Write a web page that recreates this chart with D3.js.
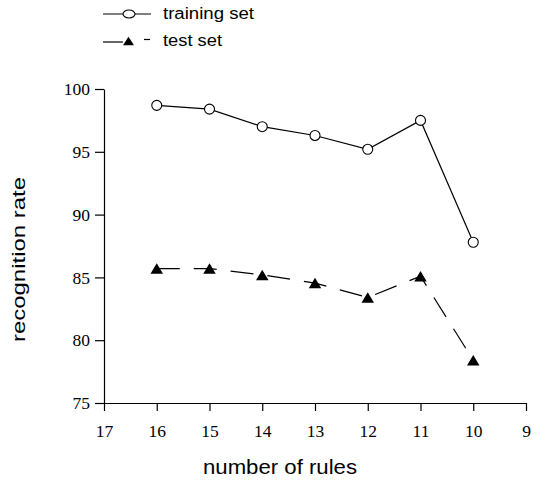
<!DOCTYPE html>
<html><head><meta charset="utf-8">
<script src="https://cdn.jsdelivr.net/npm/d3@7"></script>
<style>body{margin:0;background:#fff;} svg{display:block;}</style>
</head><body>
<svg id="c" width="536" height="480"></svg>
<script>
const rules = [16, 15, 14, 13, 12, 11, 10];
const trainingSet = [98.7, 98.4, 97.0, 96.3, 95.2, 97.5, 87.8];
const testSet = [85.7, 85.7, 85.2, 84.55, 83.4, 85.1, 78.4];
const xTicks = [17, 16, 15, 14, 13, 12, 11, 10, 9];
const yTicks = [75, 80, 85, 90, 95, 100];
const seriesNames = ["training set", "test set"];

const svg = d3.select("#c");
const x = d3.scaleLinear().domain([17, 9]).range([104, 526]);
const y = d3.scaleLinear().domain([75, 100]).range([403, 89]);
const serif = "'Liberation Serif','Times New Roman',serif";
const sans = "'Liberation Sans',Arial,sans-serif";

// triangle symbol centred on its bounding box
function triangle(w, h) {
  return {draw(ctx) {
    ctx.moveTo(0, -h / 2); ctx.lineTo(w / 2, h / 2); ctx.lineTo(-w / 2, h / 2); ctx.closePath();
  }};
}

const xAxis = svg.append("g").attr("transform", `translate(0,${y(75)})`)
  .call(d3.axisBottom(x).tickValues(xTicks).tickSize(8).tickPadding(14).tickSizeOuter(0));
const yAxis = svg.append("g").attr("transform", `translate(${x(17)},0)`)
  .call(d3.axisLeft(y).tickValues(yTicks).tickSize(9).tickPadding(5).tickSizeOuter(0));
[xAxis, yAxis].forEach(a => {
  a.selectAll("text").attr("font-family", serif).attr("font-size", 17.5).attr("fill", "#000");
  a.selectAll("line,path").attr("stroke", "#000").attr("stroke-width", 1.2);
});

const line = d3.line().x((d, i) => x(rules[i])).y(d => y(d));
svg.append("path").datum(trainingSet).attr("d", line)
  .attr("fill", "none").attr("stroke", "#000").attr("stroke-width", 1.2);
svg.append("path").datum(testSet).attr("d", line)
  .attr("fill", "none").attr("stroke", "#000").attr("stroke-width", 1.2)
  .attr("stroke-dasharray", "23,14");

svg.selectAll("circle.tr").data(trainingSet).join("circle")
  .attr("cx", (d, i) => x(rules[i])).attr("cy", d => y(d)).attr("r", 5)
  .attr("fill", "#fff").attr("stroke", "#000").attr("stroke-width", 1.1);
const tri = d3.symbol().type(triangle(12.5, 10.5));
svg.selectAll("path.te").data(testSet).join("path")
  .attr("d", tri).attr("transform", (d, i) => `translate(${x(rules[i])},${y(d)})`)
  .attr("fill", "#000");

// legend
const lg = svg.append("g");
lg.append("line").attr("x1", 103).attr("x2", 151).attr("y1", 14).attr("y2", 14).attr("stroke", "#000").attr("stroke-width", 1.2);
lg.append("ellipse").attr("cx", 129).attr("cy", 14).attr("rx", 6).attr("ry", 4).attr("fill", "#fff").attr("stroke", "#000").attr("stroke-width", 1.1);
lg.append("text").attr("x", 163).attr("y", 19).text(seriesNames[0]).attr("font-family", sans)
  .attr("font-size", 16).attr("textLength", 91).attr("lengthAdjust", "spacingAndGlyphs");
lg.append("line").attr("x1", 103).attr("x2", 123).attr("y1", 42).attr("y2", 42).attr("stroke", "#000").attr("stroke-width", 1.2);
lg.append("line").attr("x1", 144).attr("x2", 150).attr("y1", 39.5).attr("y2", 39.5).attr("stroke", "#000").attr("stroke-width", 1.2);
lg.append("path").attr("d", d3.symbol().type(triangle(11, 8.5))).attr("transform", "translate(128.5,41)").attr("fill", "#000");
lg.append("text").attr("x", 163).attr("y", 46).text(seriesNames[1]).attr("font-family", sans)
  .attr("font-size", 16).attr("textLength", 59).attr("lengthAdjust", "spacingAndGlyphs");

svg.append("text").attr("x", 203).attr("y", 474)
  .attr("font-family", sans).attr("font-size", 19.5)
  .attr("textLength", 154).attr("lengthAdjust", "spacingAndGlyphs").text("number of rules");
svg.append("text").attr("transform", "translate(25,342) rotate(-90)")
  .attr("font-family", sans).attr("font-size", 17.5)
  .attr("textLength", 165).attr("lengthAdjust", "spacingAndGlyphs").text("recognition rate");
</script>
</body></html>
